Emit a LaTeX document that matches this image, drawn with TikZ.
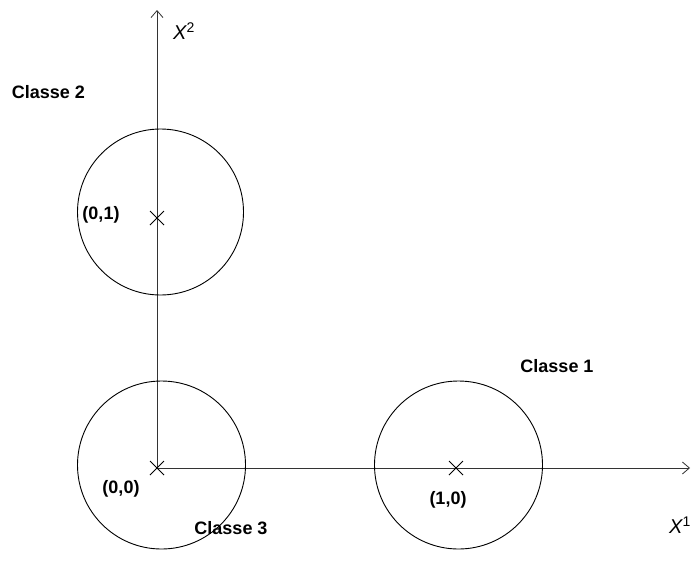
\documentclass[tikz,border=0pt]{standalone}
\usepackage{fontspec}
\setmainfont{Liberation Sans}
\usetikzlibrary{arrows.meta,calc}
\begin{document}
\begin{tikzpicture}[x=1pt,y=-1pt,
  axis/.style={line width=0.8pt,draw=black!80,-{Straight Barb[length=7pt,width=12pt]}},
  region/.style={draw=black,line width=0.9pt},
  lab/.style={font=\fontsize{18}{21}\selectfont\bfseries,inner sep=0pt},
  axlab/.style={font=\fontsize{20}{23}\selectfont\itshape,inner sep=0pt},
  xmark/.style={draw=black,line width=0.8pt}]
\useasboundingbox (0,0) rectangle (693,565);
\coordinate (o) at (157,468);
\coordinate (ytip) at (157,10);
\coordinate (xtip) at (690,468);
\coordinate (p01) at (157,218);
\coordinate (p10) at (456,468);
\draw[axis] (o) -- (ytip);
\draw[axis] (o) -- (xtip);
\draw[region] (160.5,212) circle (83);
\draw[region] (161.5,465) circle (84);
\draw[region] (458.5,465) circle (84);
\foreach \p in {o,p01,p10}{
  \draw[xmark] ($(\p)+(-7,-7)$) -- ($(\p)+(7,7)$);
  \draw[xmark] ($(\p)+(-7,7)$) -- ($(\p)+(7,-7)$);
}
\node[axlab] (x2) at (184,31) {X\textsuperscript{\normalfont 2}};
\node[axlab] (x1) at (680,525) {X\textsuperscript{\normalfont 1}};
\node[lab] (c2) at (48.5,92) {Classe 2};
\node[lab] (c1) at (557,366) {Classe 1};
\node[lab] (c3) at (231,528) {Classe 3};
\node[lab] (l01) at (101,215) {(0,1)};
\node[lab] (l00) at (121,489) {(0,0)};
\node[lab] (l10) at (448,500) {(1,0)};
\end{tikzpicture}
\end{document}
